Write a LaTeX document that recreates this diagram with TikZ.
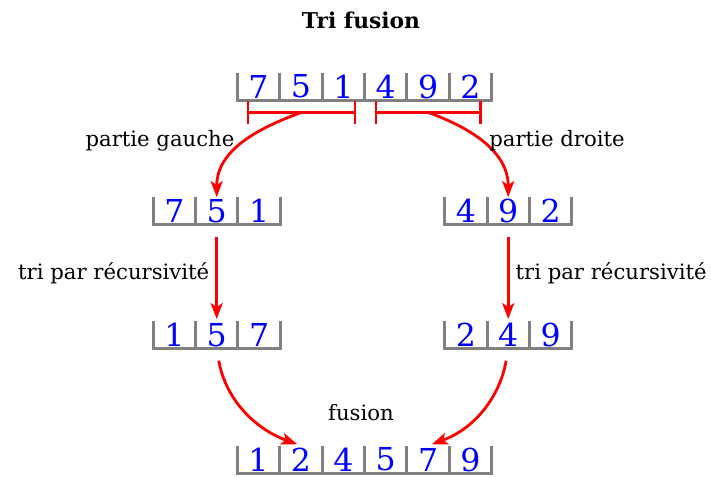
\documentclass[tikz,border=0pt]{standalone}
\usepackage{fontspec}
\setmainfont{DejaVu Serif}
\usetikzlibrary{arrows.meta, positioning}

% un tableau de cases posees sur un plateau gris
\newcommand{\tableau}[3]{%
  \foreach \v [count=\i] in {#3} {
    \ifnum\i=1
      \node[case, anchor=west] (#1-\i) at (#2) {\v};
    \else
      \pgfmathtruncatemacro{\j}{\i-1}
      \node[case, right=0pt of #1-\j] (#1-\i) {\v};
    \fi
    \draw[plateau] (#1-\i.north west) -- (#1-\i.south west) -- (#1-\i.south east) -- (#1-\i.north east);
  }
}

\begin{document}
\begin{tikzpicture}[
    x=0.5pt, y=-0.5pt,
    case/.style={minimum width=20.8pt, minimum height=13.5pt, inner sep=0pt, text=blue, font=\fontsize{15.8}{18}\selectfont},
    plateau/.style={draw=gray, line width=1.5pt},
    texte/.style={text=black, font=\fontsize{10.6}{13}\selectfont},
    fleche/.style={-{Stealth[length=8pt, width=6pt, inset=2pt]}, red, line width=1.4pt},
    moitie/.style={{Bar[width=11.5pt]}-{Bar[width=11.5pt]}, red, line width=1.2pt},
]
\useasboundingbox (0,0) rectangle (711,477);

\node[texte, font=\fontsize{10.9}{13}\selectfont\bfseries] (titre) at (361,20) {Tri fusion};

% les tableaux
\tableau{depart}{237.3,86.5}{7,5,1,4,9,2}
\tableau{gauche}{153.1,211}{7,5,1}
\tableau{droite}{444.6,211}{4,9,2}
\tableau{gtrie}{153.1,335}{1,5,7}
\tableau{dtrie}{444.6,335}{2,4,9}
\tableau{fin}{237.3,459.5}{1,2,4,5,7,9}

% les deux moities
\coordinate (gA) at ([xshift=4.7pt, yshift=-6pt]depart-1.south west);
\coordinate (gB) at ([xshift=-4.2pt, yshift=-6pt]depart-3.south east);
\coordinate (dA) at ([xshift=5pt, yshift=-6pt]depart-4.south west);
\coordinate (dB) at ([xshift=-5pt, yshift=-6pt]depart-6.south east);
\draw[moitie] (gA) -- (gB) coordinate[midway] (gM);
\draw[moitie] (dA) -- (dB) coordinate[midway] (dM);

% decoupage
\draw[fleche] (gM) to[out=200, in=90] (gauche-2.north);
\draw[fleche] (dM) to[out=-20, in=90] (droite-2.north);
\node[texte] (pg) at (160,141) {partie gauche};
\node[texte] (pd) at (557,141) {partie droite};

% tri
\draw[fleche, shorten <=6pt, shorten >=1pt] (gauche-2.south) -- (gtrie-2.north)
  node[texte, midway, left, inner sep=3pt] (tg) {tri par récursivité};
\draw[fleche, shorten <=6pt, shorten >=1pt] (droite-2.south) -- (dtrie-2.north)
  node[texte, midway, right, inner sep=3pt] (td) {tri par récursivité};

% fusion
\draw[fleche, shorten <=6pt, shorten >=2pt] (gtrie-2.south) to[out=-80, in=160] (fin-2.north);
\draw[fleche, shorten <=6pt, shorten >=2pt] (dtrie-2.south) to[out=-100, in=20] (fin-5.north);
\node[texte] (fu) at (361,413) {fusion};

\end{tikzpicture}
\end{document}
